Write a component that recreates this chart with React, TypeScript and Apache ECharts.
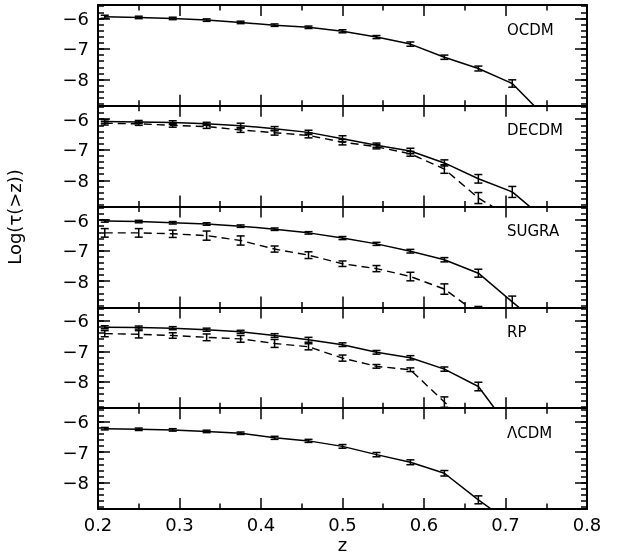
import React, { useEffect, useRef } from "react";
import * as echarts from "echarts";

// redshift bins
const zValues = [0.2083, 0.25, 0.2917, 0.3333, 0.375, 0.4167, 0.4583, 0.5, 0.5417, 0.5833, 0.625, 0.6667, 0.7083, 0.75];

const panelNames = ["OCDM", "DECDM", "SUGRA", "RP", "ΛCDM"];

const ocdm = [-5.945, -5.967, -6.0, -6.055, -6.13, -6.22, -6.29, -6.42, -6.61, -6.84, -7.27, -7.64, -8.13, -9.26];
const ocdmErr = [0.05, 0.04, 0.04, 0.04, 0.04, 0.04, 0.04, 0.05, 0.05, 0.07, 0.07, 0.08, 0.12, 0.15];

const decdm = [-6.07, -6.09, -6.11, -6.15, -6.21, -6.31, -6.43, -6.64, -6.85, -7.04, -7.43, -7.95, -8.38, -9.31];
const decdmErr = [0.06, 0.05, 0.06, 0.05, 0.08, 0.07, 0.07, 0.1, 0.07, 0.09, 0.1, 0.14, 0.18, 0.2];
const decdmAlt = [-6.13, -6.15, -6.2, -6.24, -6.35, -6.44, -6.53, -6.75, -6.9, -7.13, -7.63, -8.58, -9.25];
const decdmAltErr = [0.06, 0.05, 0.06, 0.06, 0.08, 0.08, 0.08, 0.09, 0.07, 0.08, 0.14, 0.18, 0.2];

const sugra = [-6.03, -6.05, -6.09, -6.13, -6.2, -6.3, -6.42, -6.59, -6.78, -7.02, -7.3, -7.74, -8.68, -9.6];
const sugraErr = [0.04, 0.04, 0.04, 0.04, 0.04, 0.04, 0.04, 0.05, 0.05, 0.06, 0.07, 0.13, 0.19, 0.2];
const sugraAlt = [-6.42, -6.42, -6.45, -6.51, -6.67, -6.95, -7.15, -7.43, -7.59, -7.85, -8.26, -9.08];
const sugraAltErr = [0.14, 0.14, 0.12, 0.15, 0.15, 0.1, 0.11, 0.09, 0.1, 0.14, 0.17, 0.25];

const rp = [-6.21, -6.22, -6.24, -6.29, -6.36, -6.48, -6.62, -6.78, -7.03, -7.21, -7.58, -8.15, -9.64];
const rpErr = [0.05, 0.05, 0.05, 0.05, 0.05, 0.06, 0.08, 0.06, 0.06, 0.07, 0.07, 0.14, 0.2];
const rpAlt = [-6.42, -6.44, -6.48, -6.54, -6.59, -6.74, -6.85, -7.22, -7.49, -7.6, -8.66, -9.6];
const rpAltErr = [0.1, 0.12, 0.09, 0.11, 0.11, 0.13, 0.1, 0.1, 0.06, 0.06, 0.17, 0.2];

const lcdm = [-6.23, -6.25, -6.27, -6.32, -6.38, -6.53, -6.63, -6.81, -7.08, -7.33, -7.69, -8.56, -9.36];
const lcdmErr = [0.04, 0.04, 0.04, 0.04, 0.04, 0.05, 0.05, 0.06, 0.07, 0.08, 0.09, 0.13, 0.2];

const panels = [
  { solid: ocdm, solidErr: ocdmErr, alt: null as number[] | null, altErr: null as number[] | null },
  { solid: decdm, solidErr: decdmErr, alt: decdmAlt, altErr: decdmAltErr },
  { solid: sugra, solidErr: sugraErr, alt: sugraAlt, altErr: sugraAltErr },
  { solid: rp, solidErr: rpErr, alt: rpAlt, altErr: rpAltErr },
  { solid: lcdm, solidErr: lcdmErr, alt: null, altErr: null },
];

const xTickLabels = ["0.2", "0.3", "0.4", "0.5", "0.6", "0.7", "0.8"];

const FONT = "DejaVu Sans";
const LEFT = 98;
const PLOT_W = 489;
const TOP0 = 5;
const PH = 100.8;
const YMIN = -8.86;
const YMAX = -5.56;

function errRender(params: any, api: any) {
  const x = api.value(0);
  const y = api.value(1);
  const e = api.value(2);
  const hi = api.coord([x, y + e]);
  const lo = api.coord([x, y - e]);
  const cs = params.coordSys;
  const top = cs.y;
  const bot = cs.y + cs.height;
  const children: any[] = [];
  const y1 = Math.max(hi[1], top);
  const y2 = Math.min(lo[1], bot);
  const st = { stroke: "#000", lineWidth: 1.5 };
  if (y1 <= y2) {
    children.push({ type: "line", shape: { x1: hi[0], y1, x2: hi[0], y2 }, style: st });
    if (hi[1] >= top && hi[1] <= bot)
      children.push({ type: "line", shape: { x1: hi[0] - 4, y1: hi[1], x2: hi[0] + 4, y2: hi[1] }, style: st });
    if (lo[1] >= top && lo[1] <= bot)
      children.push({ type: "line", shape: { x1: lo[0] - 4, y1: lo[1], x2: lo[0] + 4, y2: lo[1] }, style: st });
  }
  return { type: "group", children };
}

export default function App() {
  const ref = useRef<HTMLDivElement>(null);
  useEffect(() => {
    const chart = echarts.init(ref.current!, null, { renderer: "svg" });
    const grids: any[] = [];
    const xAxes: any[] = [];
    const yAxes: any[] = [];
    const series: any[] = [];
    const graphics: any[] = [];

    panels.forEach((p, gi) => {
      const top = TOP0 + gi * PH;
      grids.push({ left: LEFT, width: PLOT_W, top, height: PH });
      const isLast = gi === panels.length - 1;
      ["bottom", "top"].forEach((pos, k) => {
        xAxes.push({
          type: "value",
          gridIndex: gi,
          position: pos,
          min: 0.2,
          max: 0.8,
          interval: 0.1,
          axisLine: { show: true, onZero: false, lineStyle: { color: "#000", width: 2 } },
          axisTick: { show: true, inside: true, length: 11, lineStyle: { color: "#000", width: 1.5 } },
          minorTick: { show: true, splitNumber: 2, length: 5.5, lineStyle: { color: "#000", width: 1.5 } },
          splitLine: { show: false },
          minorSplitLine: { show: false },
          axisLabel: {
            show: isLast && k === 0,
            color: "#000",
            fontSize: 18,
            fontFamily: FONT,
            margin: 6,
            formatter: (v: number) => xTickLabels[Math.round((v - 0.2) * 10)] ?? "",
          },
        });
      });
      ["left", "right"].forEach((pos) => {
        yAxes.push({
          type: "value",
          gridIndex: gi,
          position: pos,
          min: YMIN,
          max: YMAX,
          splitNumber: 3,
          axisLine: { show: true, onZero: false, lineStyle: { color: "#000", width: 2 } },
          axisTick: { show: true, inside: true, length: 12, lineStyle: { color: "#000", width: 1.5 } },
          splitLine: { show: false },
          axisLabel: {
            show: pos === "left",
            color: "#000",
            fontSize: 18,
            fontFamily: FONT,
            margin: 9,
            formatter: (v: number) =>
              Math.abs(v - Math.round(v)) < 1e-6 ? "\u2212" + Math.abs(Math.round(v)) : "",
          },
        });
      });
      ["left", "right"].forEach((pos) => {
        yAxes.push({
          type: "value",
          gridIndex: gi,
          position: pos,
          min: YMIN,
          max: YMAX,
          splitNumber: 16,
          axisLine: { show: false },
          axisTick: { show: true, inside: true, length: 6, lineStyle: { color: "#000", width: 1.5 } },
          splitLine: { show: false },
          axisLabel: { show: false },
        });
      });

      const xi = gi * 2;
      const yi = gi * 4;
      const mk = (vals: number[]) => vals.map((v, i) => [zValues[i], v]);
      const mkErr = (vals: number[], errs: number[]) => vals.map((v, i) => [zValues[i], v, errs[i]]);

      series.push({
        type: "line",
        xAxisIndex: xi,
        yAxisIndex: yi,
        data: mk(p.solid),
        symbol: "none",
        clip: true,
        lineStyle: { color: "#000", width: 1.5 },
      });
      series.push({
        type: "custom",
        xAxisIndex: xi,
        yAxisIndex: yi,
        data: mkErr(p.solid, p.solidErr),
        renderItem: errRender,
      });
      if (p.alt && p.altErr) {
        series.push({
          type: "line",
          xAxisIndex: xi,
          yAxisIndex: yi,
          data: mk(p.alt),
          symbol: "none",
          clip: true,
          lineStyle: { color: "#000", width: 1.4, type: [8, 5] },
        });
        series.push({
          type: "custom",
          xAxisIndex: xi,
          yAxisIndex: yi,
          data: mkErr(p.alt, p.altErr),
          renderItem: errRender,
        });
      }

      graphics.push({
        type: "text",
        left: 507,
        top: top + 17,
        style: { text: panelNames[gi], fontSize: 15, fontFamily: FONT, fill: "#000" },
      });
    });

    graphics.push({
      type: "text",
      x: 14,
      y: 217,
      rotation: Math.PI / 2,
      style: {
        text: "Log(τ(>z))",
        fontSize: 18,
        fontFamily: FONT,
        fill: "#000",
        align: "center",
        verticalAlign: "middle",
      },
    });
    graphics.push({
      type: "text",
      x: LEFT + PLOT_W / 2,
      y: 544,
      style: {
        text: "z",
        fontSize: 18,
        fontFamily: FONT,
        fill: "#000",
        align: "center",
        verticalAlign: "middle",
      },
    });

    chart.setOption({
      animation: false,
      grid: grids,
      xAxis: xAxes,
      yAxis: yAxes,
      series,
      graphic: graphics,
    });
    return () => chart.dispose();
  }, []);
  return (
    <div
      ref={ref}
      style={{ position: "fixed", left: 0, top: 0, width: 621, height: 558 }}
    />
  );
}
